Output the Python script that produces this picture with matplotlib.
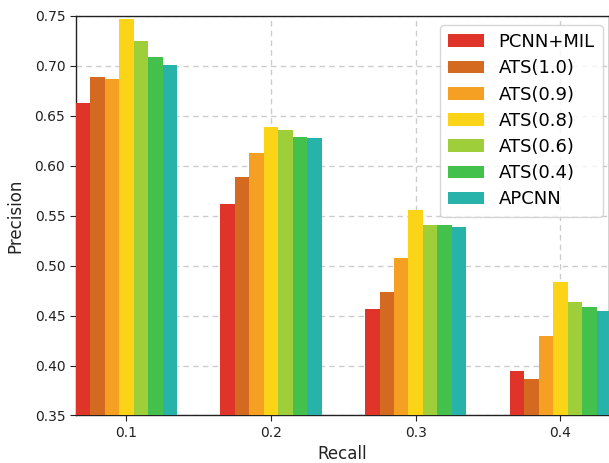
import matplotlib
matplotlib.use("Agg")
import matplotlib.pyplot as plt
import numpy as np

recall = [0.1, 0.2, 0.3, 0.4]
tick_labels = ["0.1", "0.2", "0.3", "0.4"]
series_names = ["PCNN+MIL", "ATS(1.0)", "ATS(0.9)", "ATS(0.8)", "ATS(0.6)", "ATS(0.4)", "APCNN"]
pcnn_mil = [0.663, 0.562, 0.457, 0.395]
ats_10 = [0.689, 0.589, 0.474, 0.387]
ats_09 = [0.687, 0.613, 0.508, 0.430]
ats_08 = [0.747, 0.639, 0.556, 0.484]
ats_06 = [0.725, 0.636, 0.541, 0.464]
ats_04 = [0.709, 0.629, 0.541, 0.459]
apcnn = [0.701, 0.628, 0.539, 0.455]
series = [pcnn_mil, ats_10, ats_09, ats_08, ats_06, ats_04, apcnn]
colors = ["#e0332a", "#d46a20", "#f5a023", "#fbd417", "#9ecf3a", "#44c14c", "#27b2aa"]

fig = plt.figure(figsize=(6.09, 4.63), dpi=100)
ax = fig.add_axes([0.1243, 0.1026, 0.8757, 0.8635])

width = 0.01
n = len(series)
x = np.array(recall)
for i, (vals, name, c) in enumerate(zip(series, series_names, colors)):
    ax.bar(x + (i - (n - 1) / 2) * width, vals, width=width, color=c, label=name, zorder=3)

ax.set_xlim(0.065, 0.4336)
ax.set_ylim(0.35, 0.75)
ax.set_xticks(recall)
ax.set_xticklabels(tick_labels)
yt = np.arange(0.35, 0.7501, 0.05)
ax.set_yticks(yt)
ax.set_yticklabels([f"{v:.2f}" for v in yt])
ax.tick_params(labelsize=10, length=4, color="#222222", labelcolor="#222222")
ax.grid(True, linestyle=(0, (4, 3)), color="#cccccc", linewidth=1, zorder=0)
ax.set_axisbelow(True)
for s in ax.spines.values():
    s.set_color("#222222")
    s.set_linewidth(1.0)
ax.set_xlabel("Recall", fontsize=12, color="#222222", labelpad=4)
ax.set_ylabel("Precision", fontsize=12, color="#222222", labelpad=7)

leg = ax.legend(loc="upper right", fontsize=13, frameon=True, fancybox=True,
                handlelength=2.0, handleheight=0.7, borderpad=0.45, labelspacing=0.455,
                borderaxespad=0, bbox_to_anchor=(0.9887, 0.9767))
leg.get_frame().set_edgecolor("#cccccc")

fig.savefig("out.png", dpi=100)
